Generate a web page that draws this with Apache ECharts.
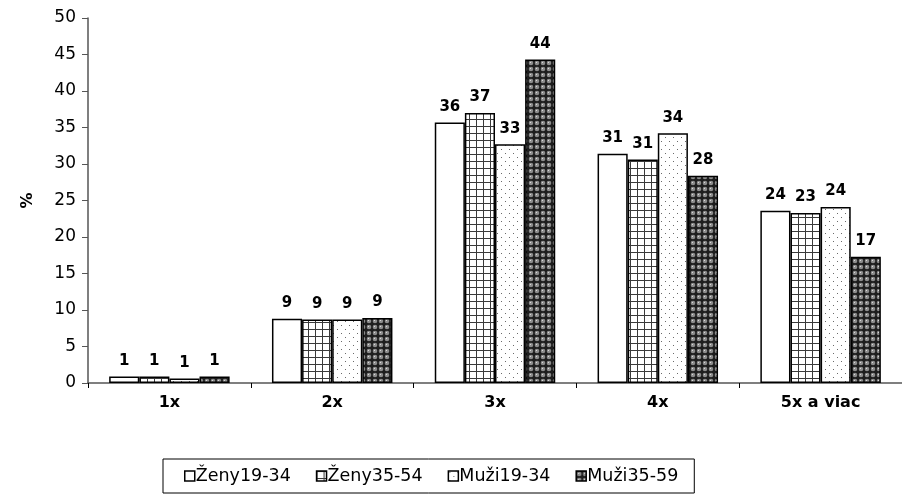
<!DOCTYPE html>
<html>
<head>
<meta charset="utf-8">
<script src="https://cdn.jsdelivr.net/npm/echarts@6/dist/echarts.min.js"></script>
<style>
html,body{margin:0;padding:0;background:#fff;}
#chart{width:902px;height:496px;}
</style>
</head>
<body>
<div id="chart"></div>
<script>
// Categories and series values (percent)
const categories = ['1x', '2x', '3x', '4x', '5x a viac'];
const seriesNames = ['Ženy19-34', 'Ženy35-54', 'Muži19-34', 'Muži35-59'];
const zeny1934 = [0.9, 8.8, 35.7, 31.4, 23.6];
const zeny3554 = [0.9, 8.7, 37.0, 30.6, 23.3];
const muzi1934 = [0.6, 8.7, 32.7, 34.2, 24.1];
const muzi3559 = [0.9, 8.9, 44.3, 28.4, 17.3];
const yTicks = { min: 0, max: 50, interval: 5 };

// Fill patterns drawn on small canvases
function makeCanvas(w, h, draw) {
  const c = document.createElement('canvas');
  c.width = w; c.height = h;
  const ctx = c.getContext('2d');
  draw(ctx);
  return c;
}
const gridPattern = makeCanvas(7, 7, ctx => {
  ctx.fillStyle = '#fff'; ctx.fillRect(0, 0, 7, 7);
  ctx.fillStyle = '#3a3a3a';
  ctx.fillRect(0, 0, 7, 1);
  ctx.fillRect(0, 0, 1, 7);
});
const dotPattern = makeCanvas(8, 8, ctx => {
  ctx.fillStyle = '#fff'; ctx.fillRect(0, 0, 8, 8);
  ctx.fillStyle = '#6a6a6a';
  ctx.fillRect(1, 1, 1, 1);
  ctx.fillRect(5, 5, 1, 1);
});
const ballPattern = makeCanvas(6, 6, ctx => {
  ctx.fillStyle = '#1e1e1e'; ctx.fillRect(0, 0, 6, 6);
  ctx.fillStyle = '#8c8c8c';
  ctx.beginPath(); ctx.arc(3, 3, 2.3, 0, Math.PI * 2); ctx.fill();
  ctx.fillStyle = '#d8d8d8';
  ctx.fillRect(2, 2, 1, 1);
});

const fills = [
  '#ffffff',
  { image: gridPattern, repeat: 'repeat' },
  { image: dotPattern, repeat: 'repeat' },
  { image: ballPattern, repeat: 'repeat' }
];
const dataSets = [zeny1934, zeny3554, muzi1934, muzi3559];
const FONT = 'DejaVu Sans, Verdana, sans-serif';

const chart = echarts.init(document.getElementById('chart'));
chart.setOption({
  animation: false,
  textStyle: { fontFamily: FONT },
  grid: { left: 88, right: -6, top: 18, bottom: 113 },
  legend: {
    left: 163,
    top: 459,
    data: seriesNames,
    icon: 'rect',
    itemWidth: 10,
    itemHeight: 10,
    itemGap: 25,
    padding: [8, 16, 8, 21],
    borderColor: '#000',
    borderWidth: 1,
    itemStyle: { borderColor: '#000', borderWidth: 1.5 },
    textStyle: { fontSize: 17.5, color: '#000', padding: [0, 0, 0, -4], fontFamily: FONT }
  },
  xAxis: {
    type: 'category',
    data: categories,
    axisLine: { lineStyle: { color: '#555', width: 1.5 } },
    axisTick: { show: true, length: 5, lineStyle: { color: '#000' } },
    axisLabel: { fontSize: 16, fontWeight: 'bold', color: '#000', margin: 12, fontFamily: FONT }
  },
  yAxis: {
    type: 'value',
    min: yTicks.min, max: yTicks.max, interval: yTicks.interval,
    name: '%',
    nameLocation: 'middle',
    nameGap: 52,
    nameRotate: 90,
    nameTextStyle: { fontSize: 16, fontWeight: 'bold', color: '#000', fontFamily: FONT },
    axisLine: { show: true, lineStyle: { color: '#555', width: 1.5 } },
    axisTick: { show: true, length: 6, lineStyle: { color: '#555' } },
    axisLabel: { fontSize: 17, color: '#000', margin: 12, fontFamily: FONT },
    splitLine: { show: false }
  },
  series: seriesNames.map((name, i) => ({
    name: name,
    type: 'bar',
    data: dataSets[i],
    barGap: '0%',
    barCategoryGap: '26%',
    itemStyle: { color: fills[i], borderColor: '#000', borderWidth: 1.5 },
    label: {
      show: true,
      position: 'top',
      distance: 8,
      fontSize: 15,
      fontWeight: 'bold',
      color: '#000',
      fontFamily: FONT,
      formatter: p => Math.round(p.value)
    }
  }))
});
</script>
</body>
</html>
